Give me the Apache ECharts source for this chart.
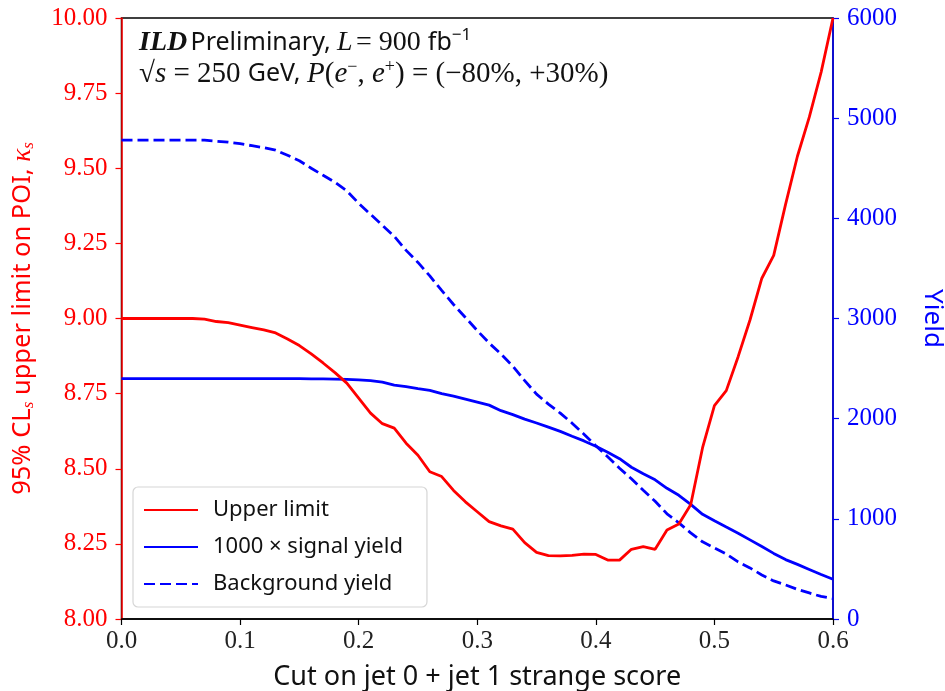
<!DOCTYPE html>
<html><head><meta charset="utf-8">
<script src="https://cdn.jsdelivr.net/npm/echarts@6/dist/echarts.min.js"></script>
<style>html,body{margin:0;padding:0;background:#fff}#c{width:945px;height:691px}</style>
</head><body><div id="c"></div>
<script>
const cuts = [0.00,0.01,0.02,0.03,0.04,0.05,0.06,0.07,0.08,0.09,0.10,0.11,0.12,0.13,0.14,0.15,0.16,0.17,0.18,0.19,0.20,0.21,0.22,0.23,0.24,0.25,0.26,0.27,0.28,0.29,0.30,0.31,0.32,0.33,0.34,0.35,0.36,0.37,0.38,0.39,0.40,0.41,0.42,0.43,0.44,0.45,0.46,0.47,0.48,0.49,0.50,0.51,0.52,0.53,0.54,0.55,0.56,0.57,0.58,0.59,0.60];
const upperLimit = [9.000,9.000,9.000,9.000,9.000,9.000,9.000,8.998,8.990,8.986,8.978,8.970,8.962,8.952,8.932,8.910,8.882,8.852,8.820,8.785,8.735,8.685,8.650,8.635,8.585,8.545,8.490,8.474,8.428,8.390,8.357,8.324,8.310,8.299,8.254,8.222,8.211,8.210,8.212,8.216,8.215,8.196,8.196,8.232,8.241,8.232,8.296,8.316,8.380,8.570,8.710,8.760,8.873,8.995,9.134,9.210,9.380,9.540,9.670,9.820,10.000];
const signalYield = [2400,2400,2400,2400,2400,2400,2400,2400,2400,2400,2400,2400,2400,2400,2400,2400,2398,2397,2395,2392,2388,2380,2365,2335,2320,2300,2283,2250,2225,2195,2165,2135,2080,2040,1995,1957,1915,1873,1825,1778,1725,1665,1600,1515,1450,1390,1305,1235,1145,1045,980,918,857,790,723,655,593,545,495,445,397];
const backgroundYield = [4780,4780,4780,4780,4780,4780,4780,4780,4770,4760,4745,4725,4705,4680,4630,4575,4500,4430,4360,4275,4150,4040,3930,3820,3680,3560,3425,3280,3140,3010,2880,2755,2645,2525,2380,2245,2145,2055,1955,1845,1730,1620,1505,1400,1285,1175,1050,960,860,770,710,650,570,510,440,380,340,295,260,225,205];
const seriesNames = ['Upper limit', '1000 \u00d7 signal yield', 'Background yield'];

const pair = arr => cuts.map((x, i) => [x, arr[i]]);
const serif = '"Liberation Serif", "DejaVu Serif", serif';
const sans = '"Noto Sans", "DejaVu Sans", sans-serif';

const chart = echarts.init(document.getElementById('c'), null, {renderer: 'canvas'});
chart.setOption({
  animation: false,
  backgroundColor: '#fff',
  grid: {left: 121.5, right: 112, top: 18, bottom: 72, containLabel: false, outerBoundsMode: 'none',
         show: true, borderColor: '#000', borderWidth: 1.5, backgroundColor: 'transparent'},
  xAxis: {
    type: 'value', min: 0, max: 0.6, interval: 0.1,
    axisLine: {show: true, lineStyle: {color: '#000', width: 1.5}},
    axisTick: {show: true, inside: false, length: 6, lineStyle: {color: '#000', width: 1.2}},
    axisLabel: {color: '#222', fontFamily: serif, fontSize: 25, margin: 10, formatter: v => v.toFixed(1)},
    splitLine: {show: false},
    name: 'Cut on jet 0 + jet 1 strange score', nameLocation: 'middle', nameGap: 45,
    nameTextStyle: {color: '#111', fontFamily: sans, fontSize: 27}
  },
  yAxis: [{
    type: 'value', min: 8, max: 10, interval: 0.25, position: 'left',
    axisLine: {show: true, lineStyle: {color: '#ff0000', width: 1.5}},
    axisTick: {show: true, inside: false, length: 6, lineStyle: {color: '#ff0000', width: 1.2}},
    axisLabel: {color: '#ff0000', fontFamily: serif, fontSize: 25, margin: 14, formatter: v => v.toFixed(2)},
    splitLine: {show: false},
    name: '95% CL{sub|s} upper limit on POI, {it|\u03ba}{sub|s}', nameLocation: 'middle', nameGap: 84, nameRotate: 90,
    nameTextStyle: {color: '#ff0000', fontFamily: sans, fontSize: 25.5,
      rich: {sub: {fontSize: 17, color: '#ff0000', fontFamily: serif, fontStyle: 'italic', verticalAlign: 'bottom', padding: [12,0,0,0]},
             it: {fontSize: 27, color: '#ff0000', fontFamily: serif, fontStyle: 'italic'}}}
  }, {
    type: 'value', min: 0, max: 6000, interval: 1000, position: 'right',
    axisLine: {show: true, lineStyle: {color: '#0000ff', width: 1.5}},
    axisTick: {show: true, inside: false, length: 6, lineStyle: {color: '#0000ff', width: 1.2}},
    axisLabel: {color: '#0000ff', fontFamily: serif, fontSize: 25, margin: 14, formatter: v => String(v)},
    splitLine: {show: false},
    name: 'Yield', nameLocation: 'middle', nameGap: 86, nameRotate: -90,
    nameTextStyle: {color: '#0000ff', fontFamily: sans, fontSize: 26}
  }],
  legend: {
    orient: 'vertical', left: 133, top: 487, itemWidth: 54, itemHeight: 14, itemGap: 15,
    padding: [12, 24, 12, 10], backgroundColor: '#fff', borderColor: '#d6d6d6', borderWidth: 1.2, borderRadius: 5,
    itemStyle: {opacity: 0},
    textStyle: {fontFamily: sans, fontSize: 22, color: '#111', padding: [0,0,0,10]},
    data: seriesNames
  },
  series: [{
    name: seriesNames[0], type: 'line', yAxisIndex: 0, data: pair(upperLimit), symbol: 'none', showSymbol: false,
    lineStyle: {color: '#ff0000', width: 2.8}, itemStyle: {color: '#ff0000'}, z: 3, clip: true
  }, {
    name: seriesNames[1], type: 'line', yAxisIndex: 1, data: pair(signalYield), symbol: 'none', showSymbol: false,
    lineStyle: {color: '#0000ff', width: 2.8}, itemStyle: {color: '#0000ff'}, z: 2
  }, {
    name: seriesNames[2], type: 'line', yAxisIndex: 1, data: pair(backgroundYield), symbol: 'none', showSymbol: false,
    lineStyle: {color: '#0000ff', width: 2.8, type: [11, 5]}, itemStyle: {color: '#0000ff'}, z: 2
  }],
  graphic: [{
    type: 'text', left: 139, top: 27,
    style: {
      text: '{b|ILD} {s|Preliminary, }{i|L} {r|= 900 }{s|fb}{sup|\u22121}',
      rich: {
        b: {fontFamily: serif, fontStyle: 'italic', fontWeight: 'bold', fontSize: 28, fill: '#111'},
        s: {fontFamily: sans, fontSize: 25, fill: '#111'},
        r: {fontFamily: serif, fontSize: 28, fill: '#111'},
        i: {fontFamily: serif, fontStyle: 'italic', fontSize: 28, fill: '#111'},
        sup: {fontFamily: sans, fontSize: 17, fill: '#111', verticalAlign: 'top', padding: [0,0,14,0]}
      }
    }
  }, {
    type: 'text', left: 139, top: 58,
    style: {
      text: '{r|\u221a}{i|s}{r| = 250 }{s|GeV, }{i|P}{r|(}{i|e}{sup|\u2212}{r|, }{i|e}{sup|+}{r|) = (\u221280%, +30%)}',
      rich: {
        r: {fontFamily: serif, fontSize: 29, fill: '#111'},
        s: {fontFamily: sans, fontSize: 25, fill: '#111'},
        i: {fontFamily: serif, fontStyle: 'italic', fontSize: 29, fill: '#111'},
        sup: {fontFamily: serif, fontSize: 18, fill: '#111', verticalAlign: 'top', padding: [0,0,14,0]}
      }
    }
  }]
});
</script></body></html>
